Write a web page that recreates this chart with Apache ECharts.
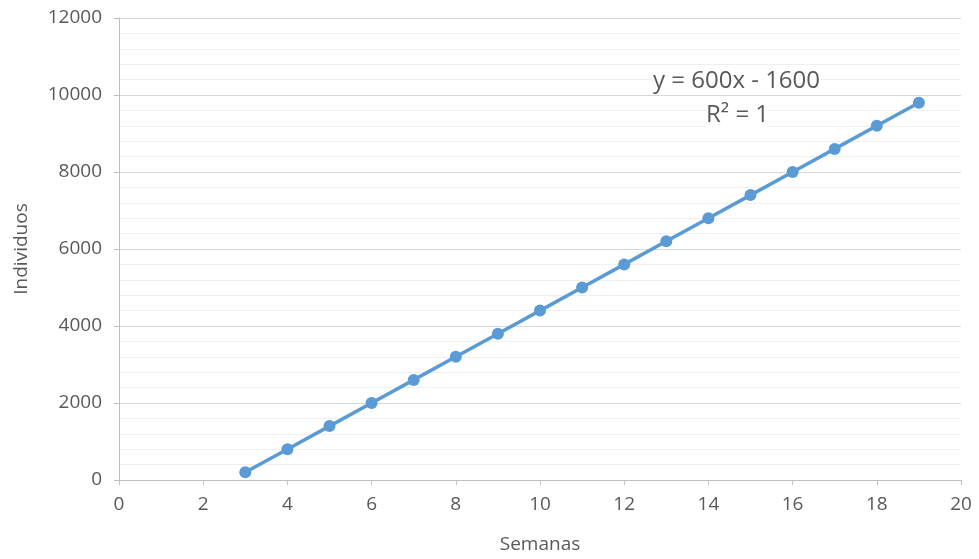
<!DOCTYPE html>
<html>
<head>
<meta charset="utf-8">
<script src="https://cdn.jsdelivr.net/npm/echarts@6/dist/echarts.min.js"></script>
<style>html,body{margin:0;padding:0;background:#fff}#c{width:979px;height:559px}</style>
</head>
<body>
<div id="c"></div>
<script>
const semanas = [3,4,5,6,7,8,9,10,11,12,13,14,15,16,17,18,19];
const individuos = [200,800,1400,2000,2600,3200,3800,4400,5000,5600,6200,6800,7400,8000,8600,9200,9800];
const equationText = 'y = 600x - 1600';
const r2Text = 'R² = 1';
const xName = 'Semanas';
const yName = 'Individuos';

const FONT = 'Open Sans';
const GRAY = '#595959';
const chart = echarts.init(document.getElementById('c'), null, {renderer:'canvas'});
chart.setOption({
  animation: false,
  backgroundColor: '#fff',
  textStyle: {fontFamily: FONT},
  grid: {left: 119, right: 18, top: 18, bottom: 79, containLabel: false, outerBoundsMode: 'none'},
  xAxis: {
    type: 'value', min: 0, max: 20, interval: 2,
    name: xName, nameLocation: 'middle', nameGap: 55,
    nameTextStyle: {color: GRAY, fontSize: 19, fontFamily: FONT},
    axisLine: {show: true, lineStyle: {color: '#BFBFBF', width: 1}},
    axisTick: {show: true, length: 5, lineStyle: {color: '#BFBFBF'}},
    axisLabel: {color: GRAY, fontSize: 19, margin: 15, fontFamily: FONT, formatter: v => String(v)},
    splitLine: {show: false}
  },
  yAxis: {
    type: 'value', min: 0, max: 12000, interval: 2000,
    name: yName, nameLocation: 'middle', nameGap: 88, nameRotate: 90,
    nameTextStyle: {color: GRAY, fontSize: 19, fontFamily: FONT},
    axisLine: {show: true, lineStyle: {color: '#BFBFBF', width: 1}},
    axisTick: {show: true, length: 5, lineStyle: {color: '#BFBFBF'}},
    axisLabel: {color: GRAY, fontSize: 19, margin: 17, fontFamily: FONT, formatter: v => String(v)},
    splitLine: {show: true, lineStyle: {color: '#D9D9D9', width: 1}},
    minorTick: {show: false, splitNumber: 5},
    minorSplitLine: {show: true, lineStyle: {color: '#EFEFEF', width: 1}}
  },
  series: [{
    type: 'line',
    data: semanas.map((x, i) => [x, individuos[i]]),
    symbol: 'circle', symbolSize: 12,
    lineStyle: {color: '#5B9BD5', width: 3.5},
    itemStyle: {color: '#5B9BD5'},
    z: 5
  }],
  graphic: [
    {type: 'text', left: 653, top: 69, z: 100, style: {text: equationText, fill: GRAY, font: '24px "Open Sans"', backgroundColor: '#fff'}},
    {type: 'text', left: 706, top: 103, z: 100, style: {text: r2Text, fill: GRAY, font: '24px "Open Sans"', backgroundColor: '#fff'}}
  ]
});
</script>
</body>
</html>
